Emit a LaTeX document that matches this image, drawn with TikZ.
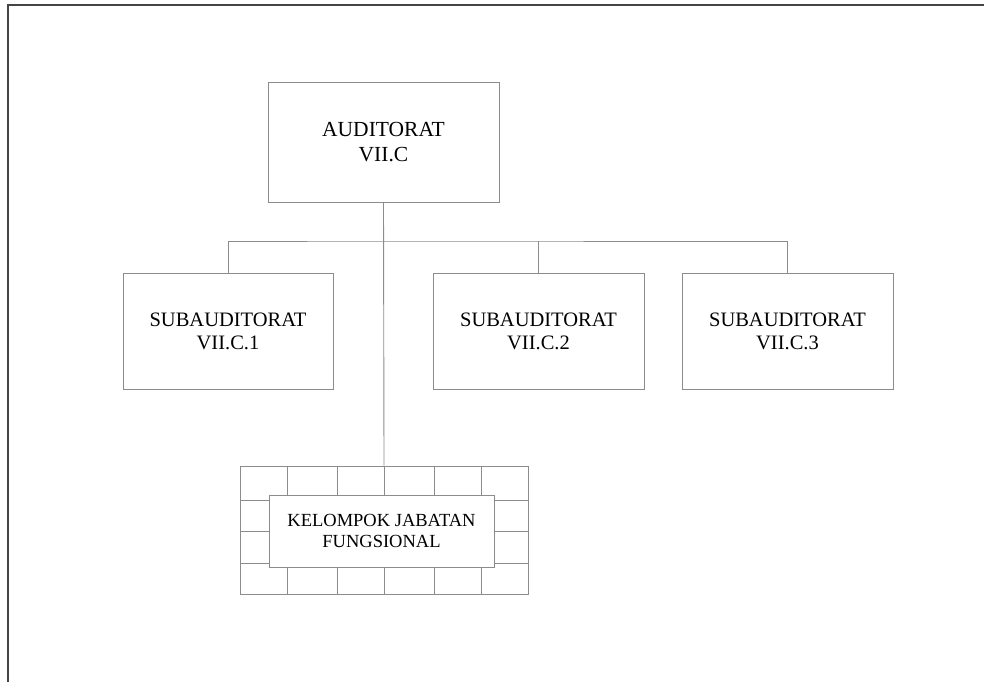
\documentclass[tikz,border=0pt]{standalone}
\usepackage{fontspec}
\setmainfont{Liberation Serif}
\usepackage{tikz}
\usetikzlibrary{positioning,calc}
\usepackage{xcolor}
\definecolor{frameline}{HTML}{454545}
\definecolor{boxline}{HTML}{8C8C8C}

\begin{document}
\begin{tikzpicture}[x=1pt, y=-1pt,
  unit/.style={draw=boxline, line width=0.9pt, fill=white, align=center, inner sep=0pt},
  ln/.style={draw=boxline, line width=0.9pt}
]
  \useasboundingbox (0,0) rectangle (984,682);
  % page frame
  \draw[frameline, line width=1.2pt] (984,5) -- (8,5) -- (8,682);
  % boxes
  \node[unit, minimum width=231pt, minimum height=120pt, font=\fontsize{21.5}{25}\selectfont] (aud) at (383.5,142) {AUDITORAT\\VII.C};
  \node[unit, minimum width=210pt, minimum height=116pt, font=\fontsize{20.5}{23}\selectfont] (sub1) at (228,331) {SUBAUDITORAT\\VII.C.1};
  \node[unit, minimum width=211pt, minimum height=116pt, font=\fontsize{20.5}{23}\selectfont] (sub2) at (538.5,331) {SUBAUDITORAT\\VII.C.2};
  \node[unit, minimum width=211pt, minimum height=116pt, font=\fontsize{20.5}{23}\selectfont] (sub3) at (787.5,331) {SUBAUDITORAT\\VII.C.3};
  % grid behind the functional group
  \node[ln, minimum width=288pt, minimum height=128pt, inner sep=0pt] (grid) at (384,530) {};
  \foreach \x in {287,337,384,434,481}{\draw[ln] (\x,466) -- (\x,594);}
  \foreach \y in {500,531,563}{\draw[ln] (240,\y) -- (528,\y);}
  \node[unit, minimum width=225pt, minimum height=72pt, font=\fontsize{18.5}{21}\selectfont] (jf) at (381.5,531) {KELOMPOK JABATAN\\FUNGSIONAL};
  % connectors
  \coordinate (bus) at (384,241);
  \draw[ln] (aud.south) -- (grid.north);
  \draw[ln] (sub1.north) |- (bus) -| (sub3.north);
  \draw[ln] (sub2.north) -- (sub2.north |- bus);
\end{tikzpicture}
\end{document}
